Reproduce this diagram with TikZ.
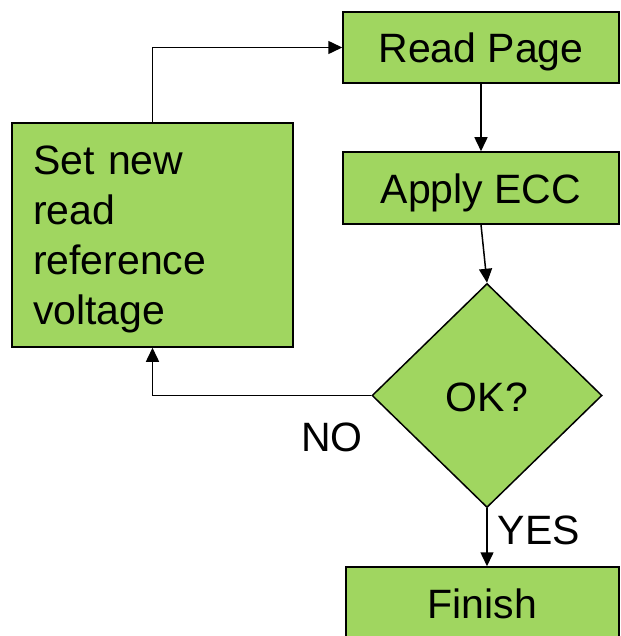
\documentclass[tikz,border=0pt]{standalone}
\usepackage{fontspec}
\setmainfont{Liberation Sans}
\usetikzlibrary{arrows.meta,shapes.geometric,calc}
\definecolor{boxgreen}{RGB}{160,214,96}
\begin{document}
\begin{tikzpicture}[x=1pt,y=-1pt,
  every node/.style={font=\fontsize{41}{50}\selectfont},
  box/.style={draw=black, line width=1.5pt, fill=boxgreen, inner sep=0pt},
  oneline/.style={text height=31pt, text depth=0pt},
  decision/.style={diamond, draw=black, line width=1.5pt, fill=boxgreen, inner sep=0pt, minimum width=230pt, minimum height=224pt},
  conn/.style={line width=1.5pt, -{Triangle[length=14pt,width=13pt]}},
  lbl/.style={inner sep=0pt}]
\useasboundingbox (0,0) rectangle (620,636);
\node[box, oneline, minimum width=276pt, minimum height=71pt] (read) at (481,47.5) {Read Page};
\node[box, oneline, minimum width=276pt, minimum height=72pt] (apply) at (481,188) {Apply ECC};
\node[box, minimum width=281pt, minimum height=224pt, text width=239pt, inner xsep=21pt, align=left] (set) at (152.5,235) {\rule{0pt}{37pt}Set new\\read\\reference\\voltage};
\node[decision, oneline] (ok) at (487,395.5) {OK?};
\node[box, oneline, minimum width=273pt, minimum height=72pt] (finish) at (482.5,603) {Finish};
\node[lbl] (no) at (332,437) {NO};
\node[lbl] (yes) at (539,530) {YES};
\draw[conn] (read.south) -- (apply.north);
\draw[conn] (apply.south) -- (ok.north);
\draw[conn] (ok.south) -- (ok.south |- finish.north);
\draw[conn] (ok.west) -| (set.south);
\draw[conn] (set.north) |- (read.west);
\end{tikzpicture}
\end{document}
